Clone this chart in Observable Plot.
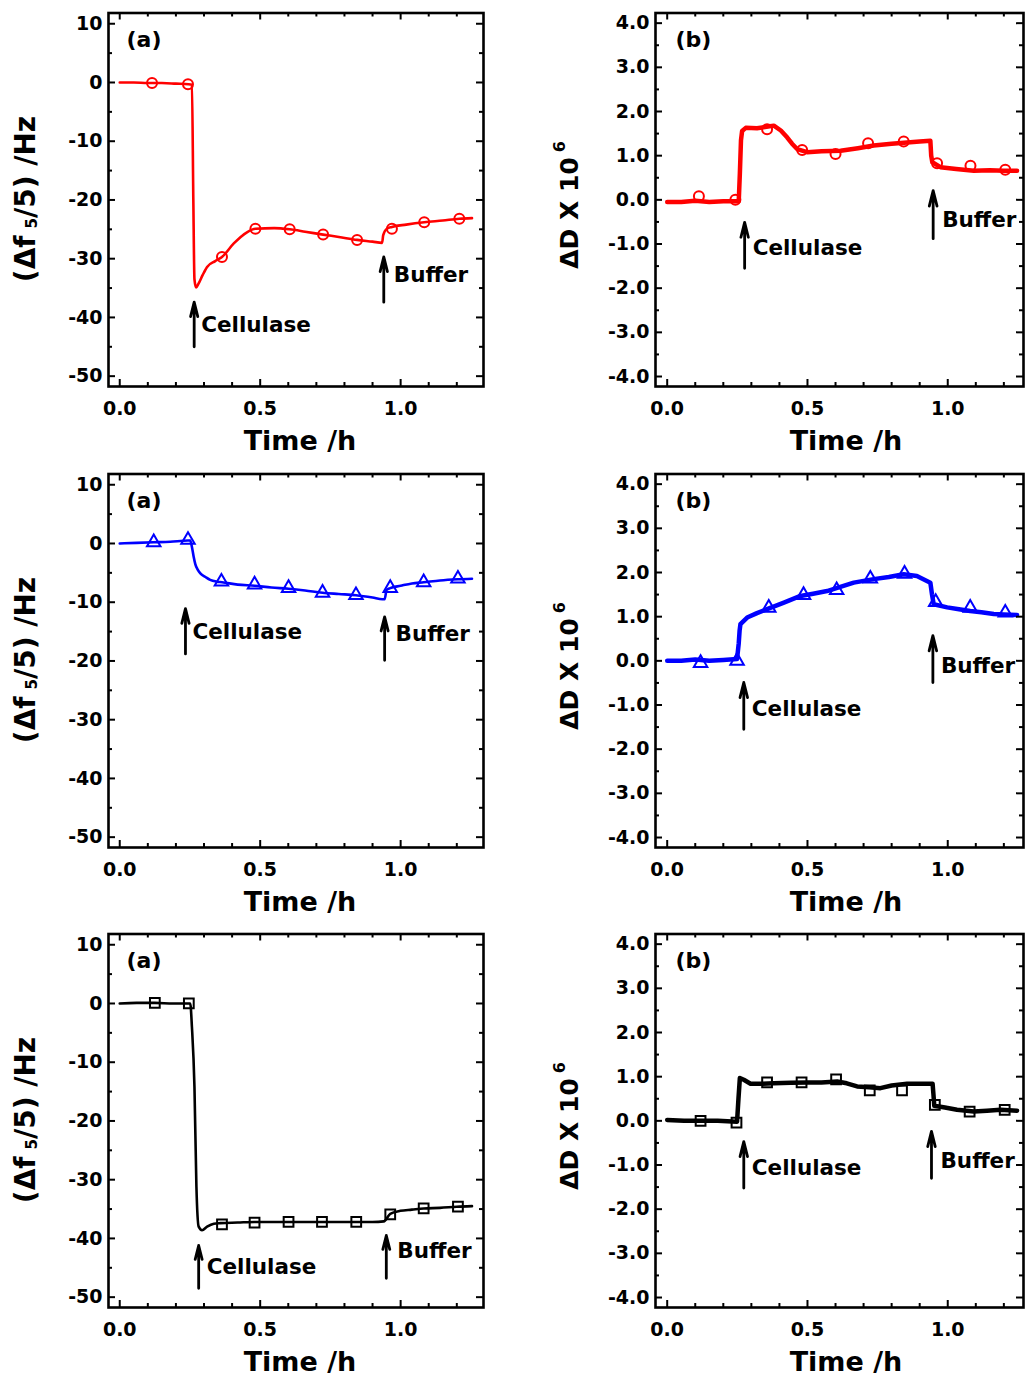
<!DOCTYPE html>
<html><head><meta charset="utf-8">
<script src="https://cdn.jsdelivr.net/npm/d3@7"></script>
<script src="https://cdn.jsdelivr.net/npm/@observablehq/plot@0.6"></script>
<style>
html,body{margin:0;padding:0;background:#fff;}
#wrap{position:relative;width:1026px;height:1379px;overflow:hidden;background:#fff;}
#wrap svg{position:absolute;}
</style></head><body><div id="wrap"></div>
<script>
// ---------- Row 1 (red, circles) ----------
const f1Time = [0, 0.05, 0.1, 0.15, 0.2, 0.245, 0.257, 0.262, 0.266, 0.272, 0.28, 0.295, 0.311, 0.34, 0.364, 0.406, 0.453, 0.483, 0.55, 0.605, 0.66, 0.724, 0.78, 0.845, 0.9, 0.934, 0.938, 0.951, 0.969, 1.02, 1.084, 1.15, 1.209, 1.254];
const f1Value = [0, 0, -0.1, -0.1, -0.2, -0.3, -0.4, -20, -33.5, -34.9, -34.3, -32.8, -31.4, -30.4, -29.7, -27.4, -25.5, -24.9, -24.8, -25.0, -25.4, -25.9, -26.3, -26.8, -27.1, -27.3, -26.0, -24.9, -24.6, -24.2, -23.8, -23.5, -23.2, -23.1];
const f1MarkTime = [0.115, 0.243, 0.364, 0.483, 0.605, 0.724, 0.845, 0.969, 1.084, 1.209];
const f1MarkValue = [-0.1, -0.3, -29.7, -24.9, -25.0, -25.9, -26.8, -24.9, -23.8, -23.2];

const d1Time = [0, 0.05, 0.1, 0.15, 0.2, 0.255, 0.259, 0.263, 0.267, 0.28, 0.32, 0.36, 0.38, 0.405, 0.428, 0.445, 0.463, 0.499, 0.55, 0.618, 0.68, 0.736, 0.8, 0.855, 0.9, 0.938, 0.941, 0.945, 0.974, 1.03, 1.093, 1.15, 1.2, 1.247];
const d1Value = [-0.05, -0.05, -0.02, -0.05, -0.03, -0.03, 0.6, 1.35, 1.56, 1.63, 1.62, 1.66, 1.68, 1.57, 1.41, 1.27, 1.15, 1.08, 1.1, 1.11, 1.17, 1.23, 1.27, 1.3, 1.32, 1.34, 1.0, 0.85, 0.74, 0.7, 0.66, 0.67, 0.66, 0.66];
const d1MarkTime = [0.113, 0.243, 0.356, 0.481, 0.6, 0.716, 0.843, 0.962, 1.081, 1.205];
const d1MarkValue = [0.08, 0.0, 1.6, 1.13, 1.04, 1.28, 1.32, 0.83, 0.77, 0.68];

// ---------- Row 2 (blue, triangles) ----------
const f2Time = [0, 0.06, 0.121, 0.18, 0.243, 0.251, 0.257, 0.263, 0.269, 0.278, 0.287, 0.305, 0.322, 0.345, 0.364, 0.42, 0.48, 0.54, 0.601, 0.66, 0.722, 0.78, 0.841, 0.9, 0.935, 0.943, 0.95, 0.963, 1.0, 1.04, 1.082, 1.14, 1.204, 1.254];
const f2Value = [0, 0.1, 0.2, 0.3, 0.5, 0.5, -0.6, -2.2, -3.5, -4.5, -5.1, -5.7, -6.2, -6.5, -6.6, -7.0, -7.2, -7.5, -7.7, -8.0, -8.4, -8.6, -8.8, -9.2, -9.5, -9.5, -7.9, -7.6, -7.2, -6.8, -6.6, -6.3, -6.1, -6.0];
const f2MarkTime = [0.121, 0.243, 0.362, 0.48, 0.601, 0.722, 0.841, 0.963, 1.082, 1.204];
const f2MarkValue = [0.2, 0.6, -6.5, -7.0, -7.6, -8.4, -8.8, -7.6, -6.6, -6.0];

const d2Time = [0, 0.05, 0.1, 0.15, 0.2, 0.249, 0.255, 0.258, 0.261, 0.285, 0.32, 0.356, 0.416, 0.475, 0.52, 0.57, 0.62, 0.665, 0.736, 0.79, 0.843, 0.89, 0.938, 0.944, 0.95, 0.998, 1.04, 1.08, 1.12, 1.164, 1.2, 1.247];
const d2Value = [0.0, 0.0, 0.03, 0.0, 0.02, 0.04, 0.4, 0.68, 0.83, 0.98, 1.08, 1.17, 1.32, 1.47, 1.52, 1.58, 1.68, 1.77, 1.85, 1.9, 1.96, 1.92, 1.77, 1.5, 1.28, 1.21, 1.17, 1.13, 1.1, 1.06, 1.05, 1.04];
const d2MarkTime = [0.119, 0.249, 0.362, 0.486, 0.604, 0.724, 0.846, 0.957, 1.08, 1.205];
const d2MarkValue = [-0.05, 0.0, 1.2, 1.49, 1.6, 1.86, 1.97, 1.33, 1.2, 1.09];

// ---------- Row 3 (black, squares) ----------
const f3Time = [0, 0.06, 0.125, 0.19, 0.246, 0.251, 0.257, 0.266, 0.273, 0.281, 0.293, 0.311, 0.335, 0.358, 0.42, 0.48, 0.54, 0.6, 0.66, 0.72, 0.78, 0.84, 0.9, 0.94, 0.963, 0.999, 1.04, 1.082, 1.14, 1.2, 1.254];
const f3Value = [0, 0.1, 0.1, 0, 0, 0, -4, -14.2, -31.2, -38.0, -38.6, -38.0, -37.5, -37.4, -37.3, -37.2, -37.2, -37.2, -37.2, -37.2, -37.2, -37.2, -37.2, -37.1, -35.8, -35.3, -35.1, -34.9, -34.8, -34.6, -34.5];
const f3MarkTime = [0.125, 0.246, 0.364, 0.48, 0.601, 0.72, 0.842, 0.963, 1.082, 1.204];
const f3MarkValue = [0.1, 0, -37.6, -37.3, -37.2, -37.2, -37.2, -35.9, -34.9, -34.6];

const d3Time = [0, 0.06, 0.119, 0.18, 0.249, 0.254, 0.259, 0.273, 0.297, 0.34, 0.38, 0.44, 0.499, 0.55, 0.606, 0.64, 0.677, 0.72, 0.76, 0.8, 0.855, 0.9, 0.946, 0.949, 0.952, 0.99, 1.033, 1.093, 1.14, 1.188, 1.247];
const d3Value = [0.02, 0.0, 0.0, 0.0, -0.02, 0.5, 0.97, 0.93, 0.84, 0.84, 0.85, 0.86, 0.87, 0.87, 0.89, 0.85, 0.78, 0.76, 0.74, 0.8, 0.84, 0.84, 0.84, 0.6, 0.34, 0.3, 0.25, 0.21, 0.23, 0.25, 0.23];
const d3MarkTime = [0.119, 0.247, 0.356, 0.479, 0.602, 0.722, 0.837, 0.954, 1.078, 1.203];
const d3MarkValue = [0.0, -0.04, 0.87, 0.87, 0.94, 0.69, 0.69, 0.36, 0.21, 0.25];

// ---------- annotations: [label, x, yFrom, yTo, textY, textDx] ----------
const notes = {
  f1: [["Cellulase", 0.265, -45.0, -37.4, -41.3, 7], ["Buffer", 0.94, -37.4, -29.7, -32.8, 10]],
  d1: [["Cellulase", 0.276, -1.55, -0.51, -1.10, 8], ["Buffer", 0.948, -0.88, 0.21, -0.47, 9]],
  f2: [["Cellulase", 0.234, -18.8, -11.1, -15.1, 7], ["Buffer", 0.943, -19.9, -12.5, -15.4, 11]],
  d2: [["Cellulase", 0.273, -1.55, -0.49, -1.09, 8], ["Buffer", 0.947, -0.49, 0.57, -0.11, 8]],
  f3: [["Cellulase", 0.281, -48.5, -41.2, -44.8, 8], ["Buffer", 0.949, -46.8, -39.5, -42.2, 11]],
  d3: [["Cellulase", 0.273, -1.52, -0.47, -1.07, 8], ["Buffer", 0.942, -1.30, -0.24, -0.92, 9]]
};

// ---------- axes ----------
const xMajor = [0, 0.5, 1.0];
const xMinor = [0.1, 0.2, 0.3, 0.4, 0.6, 0.7, 0.8, 0.9, 1.1, 1.2];
const fMajor = [-50, -40, -30, -20, -10, 0, 10];
const fMinor = [-45, -35, -25, -15, -5, 5];
const dMajor = [-4, -3, -2, -1, 0, 1, 2, 3, 4];
const dMinor = [-3.5, -2.5, -1.5, -0.5, 0.5, 1.5, 2.5, 3.5];

const FONT = "'DejaVu Sans', Verdana, sans-serif";
const wrap = document.getElementById("wrap");

function panel(cfg) {
  const left = cfg.col === 0;
  const W = 510, H = 461;
  const mL = left ? 108 : 139, mR = left ? 27 : 3, mT = 12.5, mB = 75;
  const fw = W - mL - mR, fh = H - mT - mB;
  const xDomain = left ? [-0.04, 1.295] : [-0.0417, 1.27];
  const yDomain = left ? [-51.76, 11.83] : [-4.226, 4.23];
  const yMajor = left ? fMajor : dMajor;
  const yMinor = left ? fMinor : dMinor;
  const rows = cfg.time.map((t, i) => ({t, v: cfg.value[i]}));
  const marks = cfg.markTime.map((t, i) => ({t, v: cfg.markValue[i]}));
  const ann = cfg.notes.map(([label, x, y1, y2, ty, dx]) => ({label, x, y1, y2, ty, dx}));
  const textMarks = ann.map(a => Plot.text([a], {
    x: "x", y: "ty", text: "label", dx: a.dx, textAnchor: "start",
    fontSize: 21.5, fontWeight: "bold", fontFamily: FONT, fill: "black"
  }));
  const p = Plot.plot({
    width: W, height: H,
    marginLeft: mL, marginRight: mR, marginTop: mT, marginBottom: mB,
    style: {fontFamily: FONT, fontSize: "19px", fontWeight: "bold", color: "black", background: "transparent", overflow: "visible"},
    x: {domain: xDomain, ticks: xMajor, tickSize: 0, tickPadding: 15, tickFormat: d => d.toFixed(1), label: null},
    y: {domain: yDomain, ticks: yMajor, tickSize: 0, tickPadding: 6,
        tickFormat: left ? (d => (d < 0 ? "-" : "") + Math.abs(d)) : (d => (d < 0 ? "-" : "") + Math.abs(d).toFixed(1)),
        label: null},
    marks: [
      Plot.line(rows, {x: "t", y: "v", stroke: cfg.color, strokeWidth: left ? 2.6 : 4.5, curve: left ? "monotone-x" : "linear"}),
      Plot.dot(marks, {x: "t", y: "v", symbol: cfg.symbol, r: cfg.symbol === "square" ? 5.5 : 5, stroke: cfg.color, strokeWidth: 2, fill: "none"}),
      Plot.tickX(xMajor, {insetTop: fh - 7, strokeWidth: 2}),
      Plot.tickX(xMajor, {insetBottom: fh - 7, strokeWidth: 2}),
      Plot.tickX(xMinor, {insetTop: fh - 4, strokeWidth: 2}),
      Plot.tickX(xMinor, {insetBottom: fh - 4, strokeWidth: 2}),
      Plot.tickY(yMajor, {insetRight: fw - 7, strokeWidth: 2}),
      Plot.tickY(yMajor, {insetLeft: fw - 7, strokeWidth: 2}),
      Plot.tickY(yMinor, {insetRight: fw - 4, strokeWidth: 2}),
      Plot.tickY(yMinor, {insetLeft: fw - 4, strokeWidth: 2}),
      Plot.frame({stroke: "black", strokeWidth: 2.6}),
      Plot.arrow(ann, {x1: "x", x2: "x", y1: "y1", y2: "y2", stroke: "black", strokeWidth: 2.8, headLength: 11, headAngle: 28}),
      ...textMarks,
      Plot.text([cfg.tag], {frameAnchor: "top-left", lineAnchor: "middle", dx: left ? 18 : 20, dy: 27, textAnchor: "start", fontSize: 22, fontWeight: "bold", fontFamily: FONT, fill: "black"})
    ]
  });
  const top = Math.round(460.5 * cfg.row);
  p.style.left = (left ? 0 : 516) + "px";
  p.style.top = top + "px";
  const svg = d3.select(p);
  // x axis title
  svg.append("text")
    .attr("x", left ? 300 : 330).attr("y", 450)
    .attr("text-anchor", "middle")
    .style("font-family", FONT).style("font-size", "27px").style("font-weight", "bold")
    .attr("fill", "black").text("Time /h");
  // y axis title
  if (left) {
    const t = svg.append("text")
      .attr("transform", "translate(35,199) rotate(-90)")
      .attr("text-anchor", "middle")
      .style("font-family", FONT).style("font-size", "28px").style("font-weight", "bold")
      .attr("fill", "black");
    t.append("tspan").text("(Δf");
    t.append("tspan").attr("dx", 7).attr("dy", 2).style("font-size", "15px").text("5");
    t.append("tspan").attr("dy", -2).text("/5) /Hz");
  } else {
    const t = svg.append("text")
      .attr("transform", "translate(62,205) rotate(-90)")
      .attr("text-anchor", "middle")
      .style("font-family", FONT).style("font-size", "25px").style("font-weight", "bold")
      .attr("fill", "black");
    t.append("tspan").text("ΔD X 10");
    t.append("tspan").attr("dx", 5).attr("dy", -13).style("font-size", "16px").text("6");
  }
  wrap.appendChild(p);
}

panel({col: 0, row: 0, time: f1Time, value: f1Value, markTime: f1MarkTime, markValue: f1MarkValue, color: "#ff0000", symbol: "circle", notes: notes.f1, tag: "(a)"});
panel({col: 1, row: 0, time: d1Time, value: d1Value, markTime: d1MarkTime, markValue: d1MarkValue, color: "#ff0000", symbol: "circle", notes: notes.d1, tag: "(b)"});
panel({col: 0, row: 1, time: f2Time, value: f2Value, markTime: f2MarkTime, markValue: f2MarkValue, color: "#0000ff", symbol: "triangle", notes: notes.f2, tag: "(a)"});
panel({col: 1, row: 1, time: d2Time, value: d2Value, markTime: d2MarkTime, markValue: d2MarkValue, color: "#0000ff", symbol: "triangle", notes: notes.d2, tag: "(b)"});
panel({col: 0, row: 2, time: f3Time, value: f3Value, markTime: f3MarkTime, markValue: f3MarkValue, color: "#000000", symbol: "square", notes: notes.f3, tag: "(a)"});
panel({col: 1, row: 2, time: d3Time, value: d3Value, markTime: d3MarkTime, markValue: d3MarkValue, color: "#000000", symbol: "square", notes: notes.d3, tag: "(b)"});
</script></body></html>
